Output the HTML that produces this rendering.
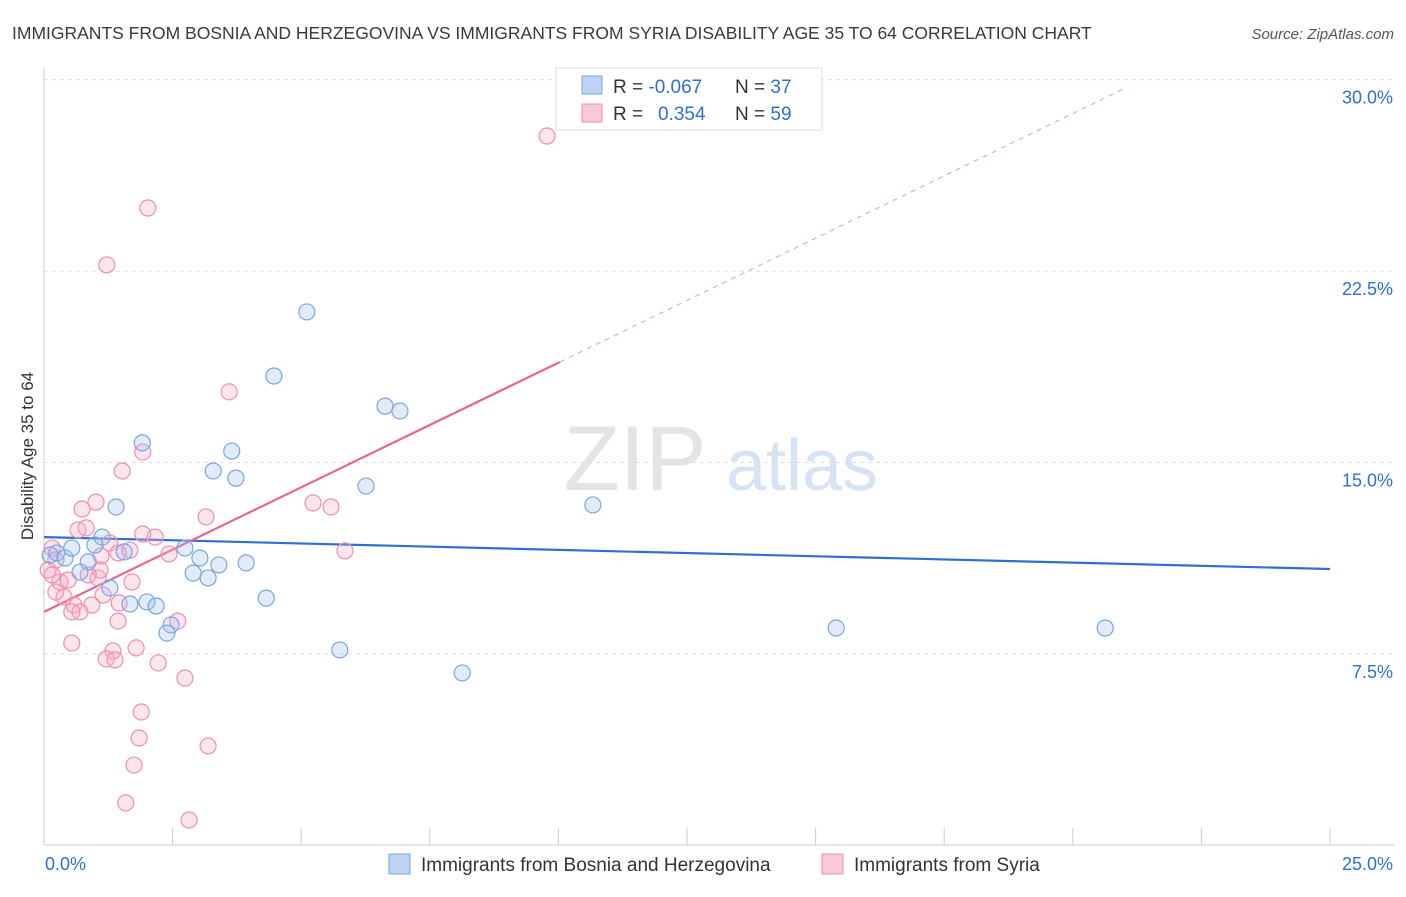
<!DOCTYPE html>
<html><head><meta charset="utf-8"><style>
body{margin:0;background:#fff;font-family:"Liberation Sans",sans-serif;}
svg text{font-family:"Liberation Sans",sans-serif;}
</style></head><body>
<svg width="1406" height="892" viewBox="0 0 1406 892" id="chart">
<text x="12" y="39" font-size="17.5" fill="#3a3a3a">IMMIGRANTS FROM BOSNIA AND HERZEGOVINA VS IMMIGRANTS FROM SYRIA DISABILITY AGE 35 TO 64 CORRELATION CHART</text>
<text x="1394" y="39" font-size="15" fill="#555" font-style="italic" text-anchor="end">Source: ZipAtlas.com</text>
<text x="33" y="456" font-size="17" fill="#333" text-anchor="middle" transform="rotate(-90 33 456)">Disability Age 35 to 64</text>
<g>
<text x="635" y="490" font-size="92" fill="#e4e4e4" font-family="Liberation Serif" text-anchor="middle">ZIP</text>
<text x="802" y="490" font-size="72" fill="#d5e3f5" text-anchor="middle">atlas</text>
</g>
<g id="grid"></g><g id="axes"></g><g id="lines"></g><g id="points"></g>
<g>
<rect x="556" y="68" width="266" height="62" fill="#fff" stroke="#ddd"/>
<rect x="582" y="76" width="20" height="18" fill="#bcd3f5" stroke="#7aa6e0"/>
<rect x="582" y="104" width="20" height="18" fill="#f9c9d8" stroke="#ef8fb0"/>
<text x="613" y="93" font-size="19" fill="#333">R = <tspan fill="#2f6fd0">-0.067</tspan></text>
<text x="735" y="93" font-size="19" fill="#333">N = <tspan fill="#2f6fd0">37</tspan></text>
<text x="613" y="120" font-size="19" fill="#333">R = <tspan fill="#2f6fd0" x="658">0.354</tspan></text>
<text x="735" y="120" font-size="19" fill="#333">N = <tspan fill="#2f6fd0">59</tspan></text>
</g>
<g>
<rect x="389" y="854" width="21" height="20" fill="#bcd3f5" stroke="#7aa6e0"/>
<text x="421" y="871" font-size="19" fill="#333">Immigrants from Bosnia and Herzegovina</text>
<rect x="822" y="854" width="21" height="20" fill="#f9c9d8" stroke="#ef8fb0"/>
<text x="854" y="871" font-size="19" fill="#333">Immigrants from Syria</text>
</g>
</svg>
<script>
const yTicks=[7.5,15.0,22.5,30.0];
const xTickLabels=["0.0%","25.0%"];
const bosniaX=[5.11,4.47,6.63,6.92,1.91,3.65,3.29,3.73,6.26,10.67,1.40,0.12,0.25,0.41,0.54,0.86,0.99,1.13,0.70,1.28,1.56,2.74,3.03,2.90,3.19,3.40,3.93,4.32,1.67,2.00,2.18,2.47,2.39,5.75,8.13,15.40,20.63];
const bosniaY=[20.9,18.39,17.21,17.02,15.77,15.45,14.67,14.39,14.08,13.34,13.26,11.38,11.46,11.26,11.65,11.11,11.77,12.08,10.71,10.09,11.50,11.65,11.26,10.67,10.48,10.99,11.07,9.69,9.46,9.54,9.38,8.64,8.32,7.66,6.76,8.52,8.52];
const syriaX=[9.78,2.02,1.22,3.60,1.92,1.52,1.01,0.74,3.15,5.23,5.58,0.66,0.82,2.16,1.92,1.28,1.67,0.16,0.23,1.44,1.11,5.85,2.43,0.08,0.31,0.47,1.05,1.71,0.23,0.39,0.58,0.93,1.46,0.70,0.54,1.15,2.60,1.44,0.54,1.34,1.79,1.21,1.38,2.22,2.74,1.89,1.85,3.19,1.75,1.59,2.82,0.16,1.09,0.86];
const syriaY=[27.79,24.97,22.74,17.77,15.41,14.67,13.45,13.18,12.87,13.42,13.26,12.36,12.44,12.08,12.20,11.85,11.57,11.65,11.18,11.46,11.34,11.54,11.42,10.79,10.32,10.40,10.48,10.32,9.93,9.73,9.42,9.42,9.50,9.15,9.15,9.81,8.79,8.79,7.93,7.62,7.74,7.31,7.27,7.15,6.56,5.23,4.21,3.90,3.15,1.67,1.00,10.60,10.79,10.60];
const bosniaTrend=[12.08,10.83];
const syriaTrend=[9.15,33.55];
const syriaSolidEnd=10.03;

const NS="http://www.w3.org/2000/svg";
const X=v=>44+v*51.44, Y=v=>845.5-v*25.53;
function mk(t,a,p){const e=document.createElementNS(NS,t);for(const k in a)e.setAttribute(k,a[k]);p.appendChild(e);return e;}
const grid=document.getElementById('grid'),axes=document.getElementById('axes'),lines=document.getElementById('lines'),pts=document.getElementById('points');
yTicks.forEach(v=>{
 const l=mk('line',{x1:44,x2:1394,y1:Y(v),y2:Y(v),stroke:'#ddd','stroke-dasharray':'4 4'},grid);
 
 
 const t=mk('text',{x:1393,y:Y(v)+24,'font-size':18,fill:'#2f6fd0','text-anchor':'end'},axes);
 t.textContent=v.toFixed(1)+'%';
 
 
});
mk('line',{x1:44,x2:44,y1:68,y2:845,stroke:'#ccc'},axes);
mk('line',{x1:44,x2:1394,y1:845,y2:845,stroke:'#ccc'},axes);
for(let i=0;i<=10;i++){const tk=mk('line',{x1:X(i*2.5),x2:X(i*2.5),y1:828,y2:845,stroke:'#ccc'},axes);
 
 }
const xl0=mk('text',{x:45,y:870,'font-size':18,fill:'#2f6fd0'},axes);xl0.textContent=xTickLabels[0];


const xl1=mk('text',{x:1393,y:870,'font-size':18,fill:'#2f6fd0','text-anchor':'end'},axes);xl1.textContent=xTickLabels[1];


function dot(x,y,f,s,n){const c=mk('circle',{cx:X(x),cy:Y(y),r:8,fill:f,stroke:s,'stroke-width':1.2},pts);
 
 }
syriaX.forEach((x,i)=>dot(x,syriaY[i],'rgba(244,170,195,0.3)','#ef8fb0','syria-point'));
bosniaX.forEach((x,i)=>dot(x,bosniaY[i],'rgba(160,190,240,0.3)','#7aa6e0','bosnia-point'));
const bl=mk('line',{x1:X(0),y1:Y(bosniaTrend[0]),x2:X(25),y2:Y(bosniaTrend[1]),stroke:'#2f6fd0','stroke-width':2.2},lines);


const sl=(v)=>syriaTrend[0]+(syriaTrend[1]-syriaTrend[0])*v/25;
const ps=mk('line',{x1:X(0),y1:Y(sl(0)),x2:X(syriaSolidEnd),y2:Y(sl(syriaSolidEnd)),stroke:'#e8648f','stroke-width':2.2},lines);


const pe=21.05;
const pd=mk('line',{x1:X(syriaSolidEnd),y1:Y(sl(syriaSolidEnd)),x2:X(pe),y2:Y(sl(pe)),stroke:'#f0a9bf','stroke-width':1.2,'stroke-dasharray':'5 5'},lines);


</script>
</body></html>
